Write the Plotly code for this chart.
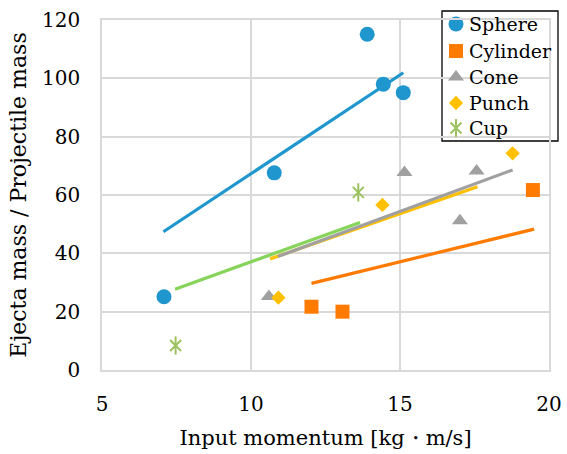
import plotly.graph_objects as go

# ---------------- data ----------------
sphere_x = [7.08, 10.78, 13.90, 14.44, 15.11]
sphere_y = [25.1, 67.6, 115.1, 98.0, 95.1]
cylinder_x = [12.03, 13.07, 19.46]
cylinder_y = [21.7, 20.0, 61.7]
cone_x = [10.60, 15.15, 17.01, 17.57]
cone_y = [25.2, 67.7, 51.2, 68.2]
punch_x = [10.92, 14.41, 18.78]
punch_y = [24.8, 56.6, 74.3]
cup_x = [7.47, 13.60]
cup_y = [8.4, 60.9]

# fitted lines (end points)
sphere_fit_x = [7.06, 15.11]
sphere_fit_y = [47.4, 101.9]
cylinder_fit_x = [12.03, 19.50]
cylinder_fit_y = [29.7, 48.3]
yellow_fit_x = [10.64, 17.60]
yellow_fit_y = [38.1, 62.8]
gray_fit_x = [10.90, 18.78]
gray_fit_y = [38.9, 68.6]
cup_fit_x = [7.45, 13.66]
cup_fit_y = [27.7, 50.6]

legend_names = ["Sphere", "Cylinder", "Cone", "Punch", "Cup"]

x_ticks = [5, 10, 15, 20]
y_ticks = [0, 20, 40, 60, 80, 100, 120]

# ---------------- styles ----------------
C_SPHERE = "#1F96CD"
C_CYL = "#FF7A00"
C_CONE = "#A0A0A0"
C_PUNCH = "#FFC000"
C_CUP = "#9BC25E"
C_CUPLINE = "#86D45A"
FONT = "DejaVu Serif, Liberation Serif, serif"

fig = go.Figure()

def line(x, y, c):
    fig.add_trace(go.Scatter(x=x, y=y, mode="lines", line=dict(color=c, width=3.2),
                             showlegend=False, hoverinfo="skip"))

line(sphere_fit_x, sphere_fit_y, C_SPHERE)
line(cylinder_fit_x, cylinder_fit_y, C_CYL)
line(yellow_fit_x, yellow_fit_y, C_PUNCH)
line(gray_fit_x, gray_fit_y, C_CONE)
line(cup_fit_x, cup_fit_y, C_CUPLINE)

STAR_V = dict(symbol="line-ns-open", size=13, color=C_CUP, line=dict(color=C_CUP, width=2))
series = [
    ("Sphere", sphere_x, sphere_y, dict(symbol="circle", size=15, color=C_SPHERE)),
    ("Cylinder", cylinder_x, cylinder_y, dict(symbol="square", size=14, color=C_CYL)),
    ("Cone", cone_x, cone_y, dict(symbol="triangle-up", size=14, color=C_CONE)),
    ("Punch", punch_x, punch_y, dict(symbol="diamond", size=11, color=C_PUNCH)),
    ("Cup", cup_x, cup_y, dict(symbol="x-thin-open", size=11, color=C_CUP,
                               line=dict(color=C_CUP, width=2))),
]
for name, x, y, m in series:
    fig.add_trace(go.Scatter(x=x, y=y, mode="markers", name=name, marker=m,
                             showlegend=False))
fig.add_trace(go.Scatter(x=cup_x, y=cup_y, mode="markers", marker=STAR_V,
                         showlegend=False, hoverinfo="skip"))

# ---------------- custom legend (pixel-space overlay axes) ----------------
L, R, T, B = 102, 549, 20, 370
def px(xp):
    return (xp - L) / (R - L)
def py(yp):
    return (B - yp) / (B - T)

leg_rows = [24, 51, 77, 103, 128]
leg_marker_x = 456
leg_text_x = 467
for (name, _, _, m), ry in zip(series, leg_rows):
    fig.add_trace(go.Scatter(x=[leg_marker_x], y=[ry], mode="markers", marker=m,
                             xaxis="x2", yaxis="y2", showlegend=False,
                             hoverinfo="skip", cliponaxis=False))
    fig.add_annotation(x=px(leg_text_x), y=py(ry), xref="paper", yref="paper",
                       text=name, showarrow=False, xanchor="left", yanchor="middle",
                       font=dict(family=FONT, size=19, color="black"))
fig.add_trace(go.Scatter(x=[leg_marker_x], y=[leg_rows[4]], mode="markers",
                         marker=STAR_V, xaxis="x2", yaxis="y2", showlegend=False,
                         hoverinfo="skip", cliponaxis=False))

fig.add_shape(type="rect", xref="paper", yref="paper",
              x0=px(442), x1=px(558), y0=py(141), y1=py(11),
              fillcolor="white", line=dict(color="black", width=1.3), layer="between")

axis_common = dict(showgrid=True, gridcolor="#D9D9D9", gridwidth=1.5,
                   showline=True, linecolor="#D9D9D9", linewidth=1.5, mirror=True,
                   zeroline=False, ticks="", automargin=False,
                   tickfont=dict(family=FONT, size=20, color="black"))

fig.update_layout(
    width=567, height=454,
    margin=dict(l=L, r=567 - R, t=T, b=454 - B),
    paper_bgcolor="white", plot_bgcolor="white",
    font=dict(family=FONT, color="black"),
    xaxis=dict(range=[5, 20], tickvals=x_ticks, ticklabelstandoff=15,
               title=dict(text="Input momentum [kg・m/s]", standoff=16,
                          font=dict(family=FONT, size=21, color="black")),
               **axis_common),
    yaxis=dict(range=[0, 120], tickvals=y_ticks, ticklabelstandoff=16,
               title=dict(text="Ejecta mass / Projectile mass", standoff=9,
                          font=dict(family=FONT, size=22, color="black")),
               **axis_common),
    xaxis2=dict(overlaying="x", range=[L, R], visible=False, anchor="y2"),
    yaxis2=dict(overlaying="y", range=[B, T], visible=False, anchor="x2"),
    showlegend=False,
)

fig.write_html("out.html")
